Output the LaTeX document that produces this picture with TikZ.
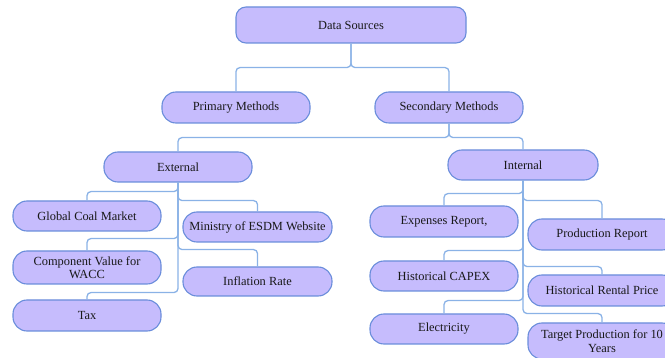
\documentclass[tikz,border=0pt]{standalone}
\usepackage{fontspec}
\setmainfont{Liberation Serif}
\newfontfamily\boxfont{Liberation Serif}
\definecolor{boxfill}{HTML}{C6BCFD}
\definecolor{boxline}{HTML}{6A8DDB}
\definecolor{connline}{HTML}{8AB2E6}
\begin{document}
\begin{tikzpicture}[x=1pt,y=-1pt,
  pill/.style={draw=boxline, line width=1.1pt, fill=boxfill, rounded corners=14pt,
    minimum width=148pt, minimum height=31pt, inner sep=1pt, align=center,
    font=\boxfont\fontsize{12.4}{13.4}\selectfont, text=black!90},
  conn/.style={draw=connline, line width=1.3pt, rounded corners=4pt}]
\useasboundingbox (0,0) rectangle (665,358);
\clip (0,0) rectangle (665,358);
\node[pill, minimum width=230pt, minimum height=36pt, rounded corners=10pt] (ds) at (351,25) {Data Sources};
\node[pill] (pm) at (236,107.5) {Primary Methods};
\node[pill] (sm) at (449,107.5) {Secondary Methods};
\node[pill, minimum height=30pt] (ext) at (178,167) {External};
\node[pill, minimum width=150pt, minimum height=30pt] (int) at (523,165) {Internal};
\node[pill, minimum height=30pt] (gcm) at (87,216) {Global Coal Market};
\node[pill, minimum width=149pt, minimum height=30pt] (min) at (257.5,227) {Ministry of ESDM Website};
\node[pill, minimum height=33pt] (cv) at (87,267.5) {Component Value for\\WACC};
\node[pill, minimum width=149pt, minimum height=29pt] (inf) at (257.5,281.5) {Inflation Rate};
\node[pill] (tax) at (87,315.5) {Tax};
\node[pill] (exp) at (444,221.5) {Expenses Report,};
\node[pill] (prod) at (602,234.5) {Production Report};
\node[pill, minimum height=30pt] (capex) at (444,276) {Historical CAPEX};
\node[pill] (rent) at (602,290.5) {Historical Rental Price};
\node[pill, minimum height=30pt] (elec) at (444,329) {Electricity};
\node[pill, minimum height=36pt] (tgt) at (602,341) {Target Production for 10\\Years};
% connectors
\draw[conn] (ds.south) -- ++(0,24) -| (pm.north);
\draw[conn] (ds.south) -- ++(0,24) -| (sm.north);
\draw[conn] (sm.south) -- ++(0,14) -| (ext.north);
\draw[conn] (sm.south) -- ++(0,14) -| (int.north);
\draw[conn] (ext.south) -- ++(0,9) -| (gcm.north);
\draw[conn] (ext.south) -- ++(0,18) -| (min.north);
\draw[conn] (ext.south) -- ++(0,56) -| (cv.north);
\draw[conn] (ext.south) -- ++(0,67) -| (inf.north);
\draw[conn] (ext.south) -- ++(0,110) -| (tax.north);
\draw[conn] (int.south) -- ++(0,13) -| (exp.north);
\draw[conn] (int.south) -- ++(0,20) -| (prod.north);
\draw[conn] (int.south) -- ++(0,70) -| (capex.north);
\draw[conn] (int.south) -- ++(0,86) -| (rent.north);
\draw[conn] (int.south) -- ++(0,120) -| (elec.north);
\draw[conn] (int.south) -- ++(0,133) -| (tgt.north);
\end{tikzpicture}
\end{document}
